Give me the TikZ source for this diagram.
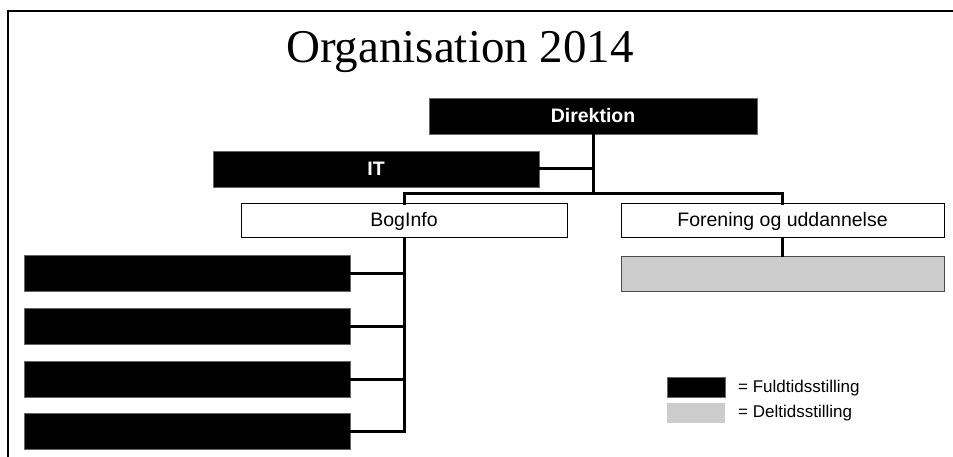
\documentclass[tikz,border=0pt]{standalone}
\usepackage{fontspec}
\setmainfont{Liberation Serif}
\setsansfont{Liberation Sans}
\begin{document}
\begin{tikzpicture}[x=1pt,y=-1pt,
  blackbox/.style={draw=black!60,line width=0.8pt,fill=black,text=white,font=\sffamily\bfseries\fontsize{19.5}{22}\selectfont,inner sep=0pt},
  whitebox/.style={draw=black,line width=1pt,fill=white,font=\sffamily\fontsize{19.5}{22}\selectfont,inner sep=0pt},
  greybox/.style={draw=black!70,line width=0.8pt,fill=black!20,inner sep=0pt},
  conn/.style={line width=3pt,line cap=rect},
  legtext/.style={font=\sffamily\fontsize{17}{20}\selectfont,anchor=west,inner sep=0pt}]
\useasboundingbox (0,0) rectangle (953,457);
% frame
\draw[line width=2.5pt] (8,457) -- (8,11) -- (953,11);
% title
\node[font=\fontsize{47}{50}\selectfont,inner sep=0pt,anchor=base] (title) at (460,63) {Organisation 2014};
% boxes
\node[blackbox,minimum width=328pt,minimum height=36pt] (dir) at (593,116) {Direktion};
\node[blackbox,minimum width=326pt,minimum height=36pt] (it) at (376,169) {IT};
\node[whitebox,minimum width=326pt,minimum height=34pt] (bog) at (404,221) {BogInfo};
\node[whitebox,minimum width=323pt,minimum height=34pt] (for) at (782.5,221) {Forening og uddannelse};
\node[greybox,minimum width=323pt,minimum height=35pt] (dt) at (782.5,273.5) {};
\node[blackbox,minimum width=326pt,minimum height=36pt] (b1) at (187,273.5) {};
\node[blackbox,minimum width=326pt,minimum height=36pt] (b2) at (187,326) {};
\node[blackbox,minimum width=326pt,minimum height=36pt] (b3) at (187,379.5) {};
\node[blackbox,minimum width=326pt,minimum height=36pt] (b4) at (187,431.5) {};
% connectors
\coordinate (j) at (593,194);
\draw[conn] (dir.south) -- (j);
\draw[conn] (it.east) -- (it.east -| j);
\draw[conn] (bog.north) |- (j) -| (for.north);
\draw[conn] (for.south) -- (dt.north);
\draw[conn] (bog.south) -- (bog.south |- b4.east) -- (b4.east);
\draw[conn] (b1.east) -- (b1.east -| bog.south);
\draw[conn] (b2.east) -- (b2.east -| bog.south);
\draw[conn] (b3.east) -- (b3.east -| bog.south);
% legend
\node[blackbox,minimum width=58pt,minimum height=20pt] (lf) at (696,387) {};
\node[greybox,draw=none,minimum width=58pt,minimum height=20pt] (ld) at (696,413) {};
\node[legtext] (lft) at (738,388) {= Fuldtidsstilling};
\node[legtext] (ldt) at (738,413) {= Deltidsstilling};
\end{tikzpicture}
\end{document}
